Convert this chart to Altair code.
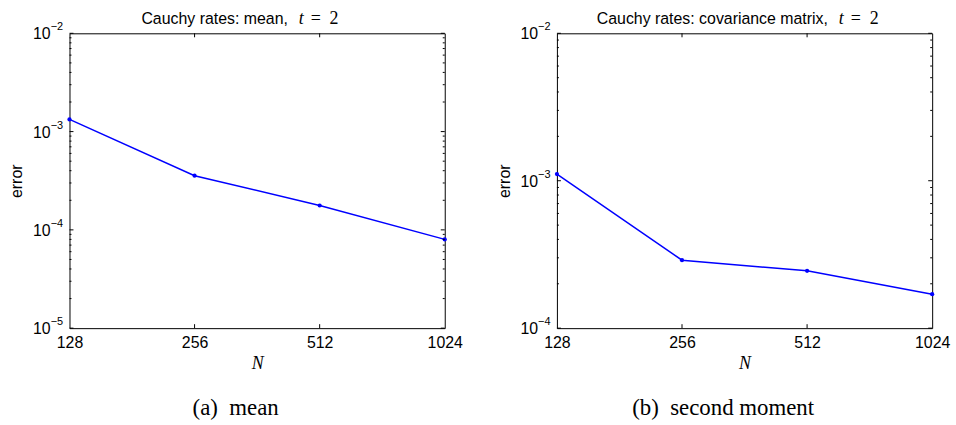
import altair as alt
import pandas as pd

# ---- data ----
N_values = [128, 256, 512, 1024]
err_mean = [1.33e-3, 3.56e-4, 1.77e-4, 8.0e-5]
err_cov = [1.11e-3, 2.89e-4, 2.45e-4, 1.70e-4]

title_text = ["Cauchy rates: mean,", "Cauchy rates: covariance matrix,"]
title_math_var = "t"
title_math_rel = "="
title_math_val = "2"
captions = ["(a)\u00a0\u00a0mean", "(b)\u00a0\u00a0second moment"]
y_domains = [[1e-5, 1e-2], [1e-4, 1e-2]]
x_ticks = [128, 256, 512, 1024]
x_inner_ticks = [256, 512]
decade_values = [1e-5, 1e-4, 1e-3, 1e-2]
decade_base = ["10", "10", "10", "10"]
decade_exp = ["\u22125", "\u22124", "\u22123", "\u22122"]
minor_mult = [2, 3, 4, 5, 6, 7, 8, 9]

W, H = 378, 297
SANS = "Liberation Sans, Arial, Helvetica, sans-serif"
SERIF = "Liberation Serif, Times New Roman, serif"
BLUE = "#0000ff"


def panel(values, ydom, ttext, caption, title_right):
    df = pd.DataFrame({"N": N_values, "error": values})
    keep = [i for i, d in enumerate(decade_values) if ydom[0] * 0.999 <= d <= ydom[1] * 1.001]
    decades = [decade_values[i] for i in keep]
    minors = [m * d for d in decades[:-1] for m in minor_mult]
    lab_df = pd.DataFrame({"error": decades,
                           "base": [decade_base[i] for i in keep],
                           "exp": [decade_exp[i] for i in keep]})

    xs = alt.X(
        "N:Q",
        scale=alt.Scale(type="log", base=2, domain=[128, 1024], nice=False),
        axis=alt.Axis(values=x_ticks, format="d", ticks=False, domain=False, grid=False,
                      title="N", titleFont=SERIF, titleFontStyle="italic", titleFontWeight="normal",
                      titleFontSize=18, labelPadding=6, titlePadding=5, labelFlush=False,
                      labelFontSize=16),
    )
    ys = alt.Y(
        "error:Q",
        scale=alt.Scale(type="log", domain=ydom, nice=False),
        axis=alt.Axis(values=decades, labels=False, ticks=False, domain=False, grid=False,
                      title="error", titleFontWeight="normal", titleFontSize=16,
                      titlePadding=45),
    )

    line = alt.Chart(df).mark_line(
        color=BLUE, strokeWidth=1.5,
        point=alt.OverlayMarkDef(filled=True, size=18, color=BLUE),
    ).encode(x=xs, y=ys)

    major_df = pd.DataFrame({"error": decades})
    minor_df = pd.DataFrame({"error": minors})
    xt_df = pd.DataFrame({"N": x_inner_ticks})

    def yrule(d, x0, x1):
        return alt.Chart(d).mark_rule(color="black", strokeWidth=1).encode(
            y=alt.Y("error:Q"), x=alt.value(x0), x2=alt.value(x1))

    def xrule(y0, y1):
        return alt.Chart(xt_df).mark_rule(color="black", strokeWidth=1).encode(
            x=alt.X("N:Q"), y=alt.value(y0), y2=alt.value(y1))

    ticks = [
        yrule(major_df, 0, 4), yrule(major_df, W, W - 4),
        yrule(minor_df, 0, 2), yrule(minor_df, W, W - 2),
        xrule(0, 4), xrule(H, H - 4),
    ]

    # y tick labels: "10" with a raised exponent
    base_lab = alt.Chart(lab_df).mark_text(
        align="right", baseline="middle", font=SANS, fontSize=16, color="black", dy=1
    ).encode(y=alt.Y("error:Q"), x=alt.value(-19), text="base:N")
    exp_lab = alt.Chart(lab_df).mark_text(
        align="left", baseline="middle", font=SANS, fontSize=11, color="black", dy=-6
    ).encode(y=alt.Y("error:Q"), x=alt.value(-19), text="exp:N")

    # title: sans text followed by serif math "t = 2"
    tdf = pd.DataFrame({"s": [ttext], "v": [title_math_var], "r": [title_math_rel], "n": [title_math_val]})
    ty = -14
    t_sans = alt.Chart(tdf).mark_text(align="right", baseline="middle", font=SANS, fontSize=16,
                                      color="black").encode(x=alt.value(title_right), y=alt.value(ty), text="s:N")
    t_var = alt.Chart(tdf).mark_text(align="left", baseline="middle", font=SERIF, fontSize=18,
                                     fontStyle="italic", color="black").encode(
        x=alt.value(title_right + 11), y=alt.value(ty), text="v:N")
    t_rel = alt.Chart(tdf).mark_text(align="left", baseline="middle", font=SERIF, fontSize=18,
                                     color="black").encode(
        x=alt.value(title_right + 23), y=alt.value(ty), text="r:N")
    t_val = alt.Chart(tdf).mark_text(align="left", baseline="middle", font=SERIF, fontSize=18,
                                     color="black").encode(
        x=alt.value(title_right + 42), y=alt.value(ty), text="n:N")

    layer = alt.layer(line, *ticks, base_lab, exp_lab, t_sans, t_var, t_rel, t_val).properties(
        width=W, height=H,
    )
    return alt.vconcat(layer).properties(
        title=alt.TitleParams(caption, orient="bottom", anchor="middle", font=SERIF, fontSize=23,
                              fontWeight="normal", color="black", offset=24)
    )


chart = alt.hconcat(
    panel(err_mean, y_domains[0], title_text[0], captions[0], 220),
    panel(err_cov, y_domains[1], title_text[1], captions[1], 273),
    spacing=32,
).configure_view(stroke="black", strokeWidth=1).configure_axis(
    labelFont=SANS, labelColor="black", titleFont=SANS, titleColor="black"
).properties(padding={"left": 8, "top": 8, "right": 5, "bottom": 3}, background="white")

chart.save("out.html", embed_options={"renderer": "svg", "actions": False})
